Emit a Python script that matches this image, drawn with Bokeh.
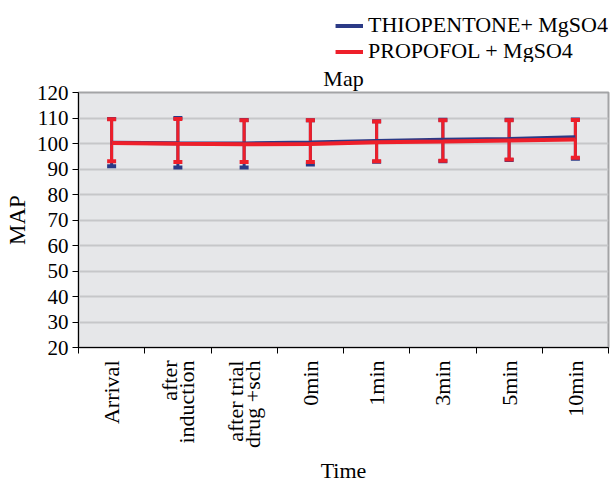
import math
from bokeh.plotting import figure
from bokeh.layouts import column
from bokeh.models import (ColumnDataSource, FixedTicker, Whisker, TeeHead, Legend, LegendItem, Title)
from bokeh.embed import file_html
from bokeh.resources import INLINE

categories = ["Arrival", "after\ninduction", "after trial\ndrug +sch", "0min", "1min", "3min", "5min", "10min"]
thio_mean = [100.3, 100.1, 100.0, 100.4, 101.0, 101.5, 101.8, 102.5]
thio_lower = [91.1, 90.6, 90.6, 91.8, 92.8, 93.0, 93.5, 94.0]
thio_upper = [109.6, 110.0, 109.2, 109.1, 108.7, 109.3, 109.3, 109.4]
prop_mean = [100.2, 99.9, 99.7, 99.8, 100.5, 100.8, 101.2, 101.6]
prop_lower = [93.0, 92.7, 92.7, 92.7, 93.0, 93.2, 93.7, 94.4]
prop_upper = [109.5, 109.6, 109.1, 109.1, 108.6, 109.1, 109.1, 109.2]
y_ticks = [20, 30, 40, 50, 60, 70, 80, 90, 100, 110, 120]
series_names = ["THIOPENTONE+ MgSO4", "PROPOFOL + MgSO4"]

FONT = "Liberation Serif"
BLUE = "#2b3a86"
RED = "#ee1f2a"

n = len(categories)
xs = [i + 0.5 for i in range(n)]

thio = ColumnDataSource(dict(x=xs, m=thio_mean, lo=thio_lower, hi=thio_upper))
prop = ColumnDataSource(dict(x=xs, m=prop_mean, lo=prop_lower, hi=prop_upper))

# ---------- legend strip ----------
top = figure(width=616, height=62, x_range=(-100, -99), y_range=(-100, -99),
             output_backend="svg", toolbar_location=None,
             x_axis_location=None, y_axis_location=None,
             min_border_left=0, min_border_right=8, min_border_top=12, min_border_bottom=0)
top.outline_line_color = None
top.grid.visible = False
lt = top.line("x", "m", source=thio, line_color=BLUE, line_width=4)
lp = top.line("x", "m", source=prop, line_color=RED, line_width=4)
legend = Legend(items=[LegendItem(label=series_names[0], renderers=[lt]),
                       LegendItem(label=series_names[1], renderers=[lp])],
                location="top_right", label_text_font=FONT, label_text_font_size="22px",
                label_text_color="black",
                background_fill_alpha=0, border_line_color=None, glyph_width=28,
                label_standoff=5, spacing=-8, padding=0, margin=0, glyph_height=21,
                label_height=21)
top.add_layout(legend, "center")

# ---------- main chart ----------
p = figure(width=616, height=424, x_range=(0, n), y_range=(20, 120),
           output_backend="svg", toolbar_location=None,
           min_border_left=78, min_border_top=30, min_border_right=0, min_border_bottom=138)
p.border_fill_color = "white"
p.background_fill_color = "#e6e7e9"
p.outline_line_color = "#a3a4a6"
p.outline_line_width = 2

def whisk(src, color, w):
    return Whisker(source=src, base="x", lower="lo", upper="hi", dimension="height",
                   line_color=color, line_width=w,
                   lower_head=TeeHead(size=9, line_color=color, line_width=4),
                   upper_head=TeeHead(size=9, line_color=color, line_width=4))

p.add_layout(whisk(thio, BLUE, 3))
p.line("x", "m", source=thio, line_color=BLUE, line_width=4)
p.add_layout(whisk(prop, RED, 3))
p.line("x", "m", source=prop, line_color=RED, line_width=4)

xa = p.xaxis[0]
xa.ticker = FixedTicker(ticks=xs, minor_ticks=list(range(0, n + 1)))
xa.major_label_overrides = {x: c for x, c in zip(xs, categories)}
xa.major_tick_line_color = None
xa.major_tick_in = 0
xa.major_tick_out = 6
xa.minor_tick_in = 0
xa.minor_tick_out = 6
xa.minor_tick_line_color = "black"
xa.major_label_orientation = math.pi / 2
xa.major_label_text_font = FONT
xa.major_label_text_font_size = "22px"
xa.major_label_text_line_height = 0.7
xa.major_label_text_color = "black"
xa.major_label_standoff = 7
xa.axis_label = "Time"
xa.axis_label_text_font = FONT
xa.axis_label_text_font_style = "normal"
xa.axis_label_text_font_size = "22px"
xa.axis_label_text_color = "black"
xa.axis_label_standoff = 7
xa.axis_line_color = "black"

ya = p.yaxis[0]
ya.ticker = FixedTicker(ticks=y_ticks)
ya.minor_tick_line_color = None
ya.major_tick_in = 0
ya.major_tick_out = 6
ya.major_label_standoff = 4
ya.major_label_text_font = FONT
ya.major_label_text_font_size = "21px"
ya.major_label_text_color = "black"
ya.axis_label = "MAP"
ya.axis_label_text_font = FONT
ya.axis_label_text_font_style = "normal"
ya.axis_label_text_font_size = "23px"
ya.axis_label_text_color = "black"
ya.axis_label_standoff = 4
ya.axis_line_color = "black"

p.xgrid.grid_line_color = None
p.ygrid.ticker = FixedTicker(ticks=y_ticks)
p.ygrid.grid_line_color = "#c6c7c9"
p.ygrid.grid_line_width = 2

p.title = Title(text="Map", align="center", offset=-5, text_font=FONT, text_font_size="22px",
                text_font_style="normal", text_color="black", standoff=3)

layout = column(top, p, spacing=0)
open("out.html", "w").write(file_html(layout, INLINE))
